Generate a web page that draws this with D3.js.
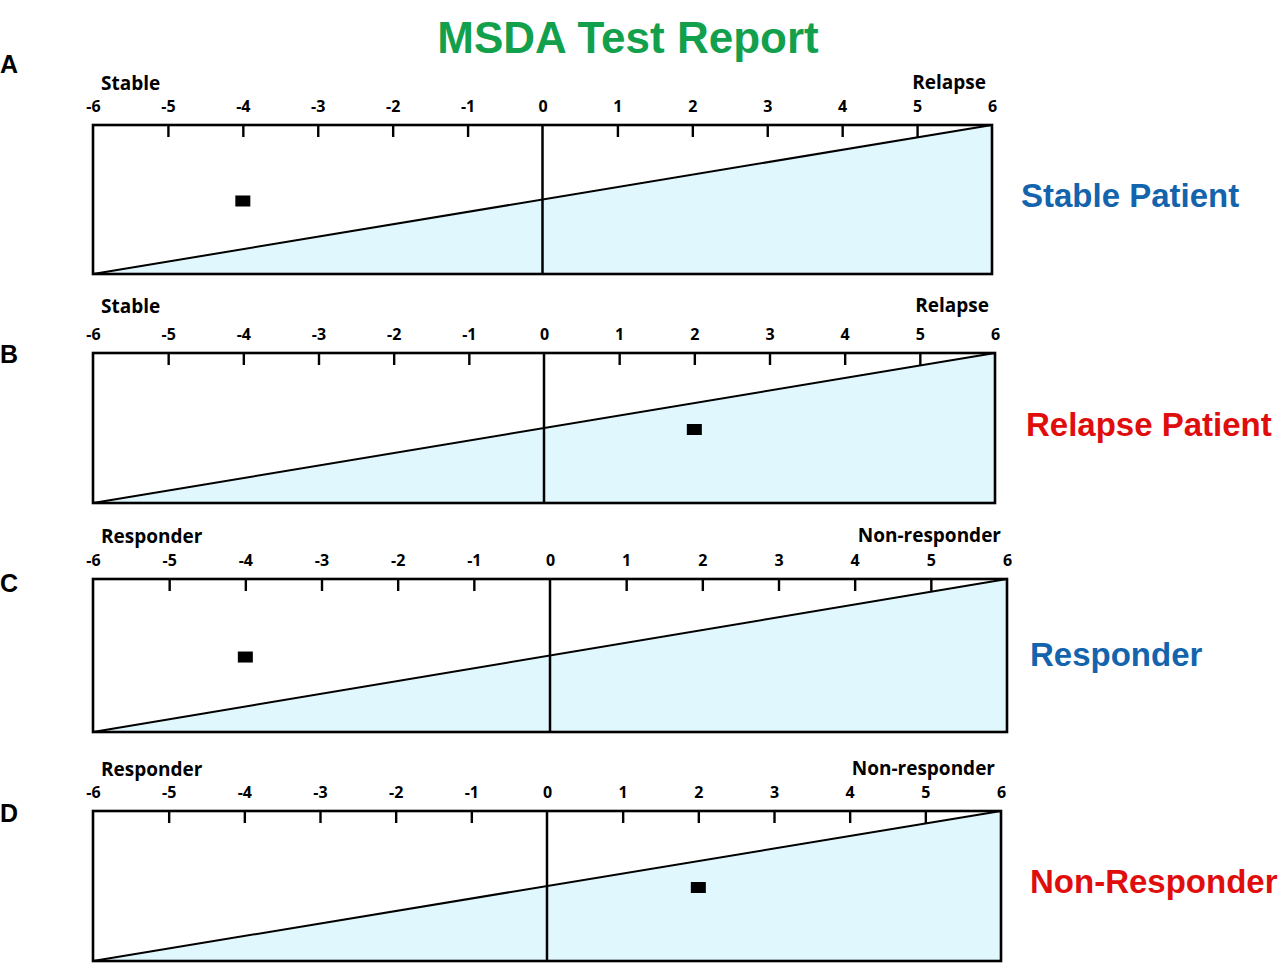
<!DOCTYPE html>
<html>
<head>
<meta charset="utf-8">
<script src="https://cdn.jsdelivr.net/npm/d3@7"></script>
<style>
  html, body { margin: 0; padding: 0; background: #ffffff; }
  svg { display: block; }
</style>
</head>
<body>
<div id="chart"></div>
<script>
// ---------------- DATA ----------------
const chartTitle = "MSDA Test Report";
const panelIds = ["A", "B", "C", "D"];
const leftPoleLabels = ["Stable", "Stable", "Responder", "Responder"];
const rightPoleLabels = ["Relapse", "Relapse", "Non-responder", "Non-responder"];
const outcomeLabels = ["Stable Patient", "Relapse Patient", "Responder", "Non-Responder"];
const outcomeClass = ["good", "bad", "good", "bad"];
const patientScores = [-4, 2, -4, 2];
const patientLevels = [0.49, 0.49, 0.49, 0.49];
const tickValues = [-6, -5, -4, -3, -2, -1, 0, 1, 2, 3, 4, 5, 6];
const scoreDomain = [-6, 6];
const boundaryLine = [[-6, 0], [6, 1]];   // decision boundary (score, relative height)

// ---------------- LAYOUT / STYLE ----------------
const W = 1288, H = 972;
const layout = [
  { left: 93, right: 992,  top: 125, bottom: 274, letterY: 73,  poleY: 90,  outY: 207 },
  { left: 93, right: 995,  top: 353, bottom: 503, letterY: 363, poleY: 313, outY: 436 },
  { left: 93, right: 1007, top: 579, bottom: 732, letterY: 592, poleY: 543, outY: 666 },
  { left: 93, right: 1001, top: 811, bottom: 961, letterY: 822, poleY: 776, outY: 893 }
];
const colors = { title: "#12a04c", good: "#1464ad", bad: "#e00d0d", fill: "#e0f7fd", ink: "#000000" };
const smallFont = "'Open Sans', 'Noto Sans', sans-serif";
const bigFont = "'Liberation Sans', Arial, sans-serif";

const svg = d3.select("#chart").append("svg")
  .attr("width", W).attr("height", H)
  .attr("viewBox", `0 0 ${W} ${H}`);

svg.append("rect").attr("width", W).attr("height", H).attr("fill", "#fff");

svg.append("text")
  .attr("x", 628).attr("y", 53)
  .attr("text-anchor", "middle")
  .attr("font-family", bigFont)
  .attr("font-weight", "bold")
  .attr("font-size", 44)
  .attr("fill", colors.title)
  .text(chartTitle);

panelIds.forEach((id, i) => {
  const L = layout[i];
  const x = d3.scaleLinear().domain(scoreDomain).range([L.left, L.right]);
  const y = d3.scaleLinear().domain([0, 1]).range([L.bottom, L.top]);
  const g = svg.append("g");

  // panel letter
  g.append("text")
    .attr("x", 0).attr("y", L.letterY)
    .attr("font-family", bigFont).attr("font-weight", "bold").attr("font-size", 25)
    .attr("fill", colors.ink)
    .text(id);

  // shaded region under the boundary
  const area = d3.area()
    .x(d => x(d[0]))
    .y0(y(0))
    .y1(d => y(d[1]));
  g.append("path")
    .datum(boundaryLine)
    .attr("d", area)
    .attr("fill", colors.fill);

  // boundary line
  g.append("path")
    .datum(boundaryLine)
    .attr("d", d3.line().x(d => x(d[0])).y(d => y(d[1])))
    .attr("fill", "none")
    .attr("stroke", colors.ink)
    .attr("stroke-width", 2);

  // zero line
  g.append("line")
    .attr("x1", x(0)).attr("x2", x(0))
    .attr("y1", y(0)).attr("y2", y(1))
    .attr("stroke", colors.ink).attr("stroke-width", 2.5);

  // axis on top, ticks pointing into the box
  const axis = d3.axisTop(x)
    .tickValues(tickValues)
    .tickFormat(d3.format("d"))
    .tickSizeInner(-12)
    .tickSizeOuter(0)
    .tickPadding(13);
  const ag = g.append("g")
    .attr("transform", `translate(0,${L.top})`)
    .call(axis);
  ag.select(".domain").remove();
  ag.selectAll(".tick line")
    .attr("stroke", colors.ink).attr("stroke-width", 2.4)
    .filter(d => d === 0 || d === scoreDomain[0] || d === scoreDomain[1]).remove();
  ag.selectAll(".tick text")
    .attr("font-family", smallFont).attr("font-weight", "bold").attr("font-size", 16)
    .attr("fill", colors.ink)
    .text(d => d < 0 ? "-" + Math.abs(d) : String(d));

  // frame
  g.append("rect")
    .attr("x", x(scoreDomain[0])).attr("y", y(1))
    .attr("width", x(scoreDomain[1]) - x(scoreDomain[0]))
    .attr("height", y(0) - y(1))
    .attr("fill", "none")
    .attr("stroke", colors.ink).attr("stroke-width", 2.6);

  // pole labels
  g.append("text")
    .attr("x", L.left + 8).attr("y", L.poleY)
    .attr("font-family", smallFont).attr("font-weight", "bold").attr("font-size", 19)
    .attr("fill", colors.ink)
    .text(leftPoleLabels[i]);
  g.append("text")
    .attr("x", L.right - 6).attr("y", L.poleY - 1)
    .attr("text-anchor", "end")
    .attr("font-family", smallFont).attr("font-weight", "bold").attr("font-size", 19)
    .attr("fill", colors.ink)
    .text(rightPoleLabels[i]);

  // patient marker
  g.append("rect")
    .attr("x", x(patientScores[i]) - 7.5)
    .attr("y", y(patientLevels[i]) - 5.5)
    .attr("width", 15).attr("height", 11)
    .attr("fill", colors.ink);

  // outcome label
  g.append("text")
    .attr("x", 1021 + (i === 1 ? 5 : 0) + (i >= 2 ? 9 : 0)).attr("y", L.outY)
    .attr("font-family", bigFont).attr("font-weight", "bold").attr("font-size", 33)
    .attr("fill", colors[outcomeClass[i]])
    .text(outcomeLabels[i]);
});
</script>
</body>
</html>
